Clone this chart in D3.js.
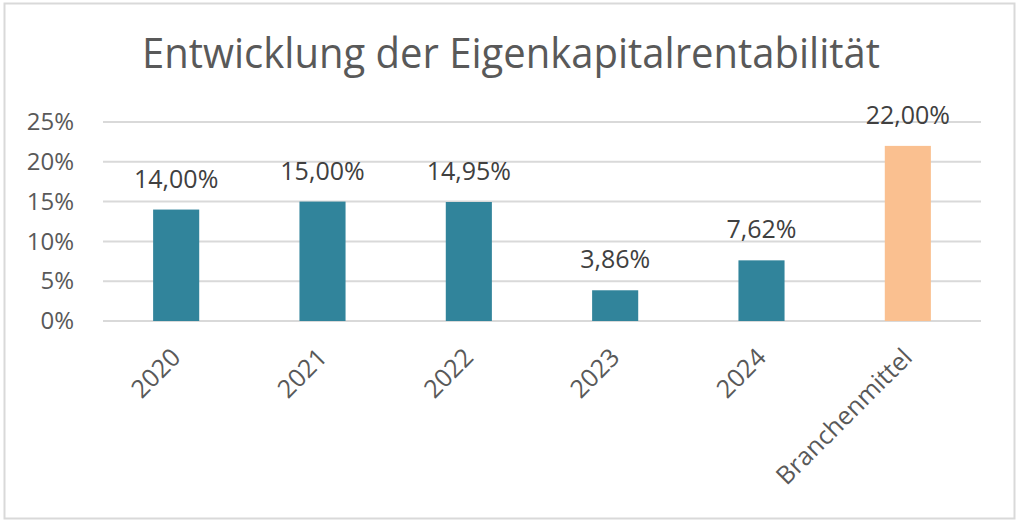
<!DOCTYPE html>
<html>
<head>
<meta charset="utf-8">
<script src="https://cdn.jsdelivr.net/npm/d3@7"></script>
<style>
  body { margin: 0; background: #fff; }
  text { font-family: "Open Sans", sans-serif; }
</style>
</head>
<body>
<div id="chart"></div>
<script>
// data
var categories = ["2020", "2021", "2022", "2023", "2024", "Branchenmittel"];
var values = [14.00, 15.00, 14.95, 3.86, 7.62, 22.00];
var barColors = ["#31849b", "#31849b", "#31849b", "#31849b", "#31849b", "#fac090"];
var yTicks = [0, 5, 10, 15, 20, 25];

var w = 1024;
var h = 525;
var margin = {top: 122, right: 43, bottom: 204, left: 103};

var svg = d3.select("#chart")
  .append("svg")
  .attr("width", w)
  .attr("height", h);

// outer chart border
svg.append("rect")
  .attr("x", 4.5)
  .attr("y", 3.5)
  .attr("width", 1010)
  .attr("height", 515)
  .attr("fill", "#fff")
  .attr("stroke", "#d9d9d9")
  .attr("stroke-width", 2);

// title
svg.append("text")
  .attr("x", 511)
  .attr("y", 68)
  .attr("text-anchor", "middle")
  .attr("font-size", "42px")
  .attr("fill", "#595959")
  .attr("textLength", 738)
  .attr("lengthAdjust", "spacingAndGlyphs")
  .text("Entwicklung der Eigenkapitalrentabilität");

var x = d3.scaleBand()
  .domain(categories)
  .range([margin.left, w - margin.right])
  .paddingInner(0.685)
  .paddingOuter(0.3425);

var y = d3.scaleLinear()
  .domain([0, 25])
  .range([h - margin.bottom, margin.top]);

//grid lines
svg.append("g")
  .selectAll("line")
  .data(yTicks)
  .enter()
  .append("line")
  .attr("x1", margin.left)
  .attr("x2", w - margin.right)
  .attr("y1", function(d) { return y(d); })
  .attr("y2", function(d) { return y(d); })
  .attr("stroke", "#d9d9d9")
  .attr("stroke-width", 2);

// y axis labels
var yAxis = d3.axisLeft(y)
  .tickValues(yTicks)
  .tickSize(0)
  .tickPadding(0)
  .tickFormat(function(d) { return d + "%"; });

svg.append("g")
  .attr("transform", "translate(74,0)")
  .call(yAxis)
  .call(function(g) { g.select(".domain").remove(); })
  .selectAll("text")
  .attr("font-family", "Open Sans, sans-serif")
  .attr("font-size", "24px")
  .attr("fill", "#595959");

// bars
svg.selectAll("rect.bar")
  .data(values)
  .enter()
  .append("rect")
  .attr("class", "bar")
  .attr("x", function(d, i) { return x(categories[i]); })
  .attr("y", function(d) { return y(d); })
  .attr("width", x.bandwidth())
  .attr("height", function(d) { return y(0) - y(d); })
  .attr("fill", function(d, i) { return barColors[i]; });

// value labels
svg.selectAll("text.val")
  .data(values)
  .enter()
  .append("text")
  .attr("class", "val")
  .attr("text-anchor", "middle")
  .attr("x", function(d, i) { return x(categories[i]) + x.bandwidth() / 2; })
  .attr("y", function(d) { return y(d) - 22; })
  .attr("font-size", "25px")
  .attr("fill", "#404040")
  .text(function(d) { return d.toFixed(2).replace(".", ",") + "%"; });

// x axis labels, rotated
svg.selectAll("text.cat")
  .data(categories)
  .enter()
  .append("text")
  .attr("class", "cat")
  .attr("text-anchor", "end")
  .attr("transform", function(d) {
    return "translate(" + (x(d) + x.bandwidth() / 2 + 6) + ",359) rotate(-45)";
  })
  .attr("font-size", "25px")
  .attr("fill", "#595959")
  .text(function(d) { return d; });
</script>
</body>
</html>
